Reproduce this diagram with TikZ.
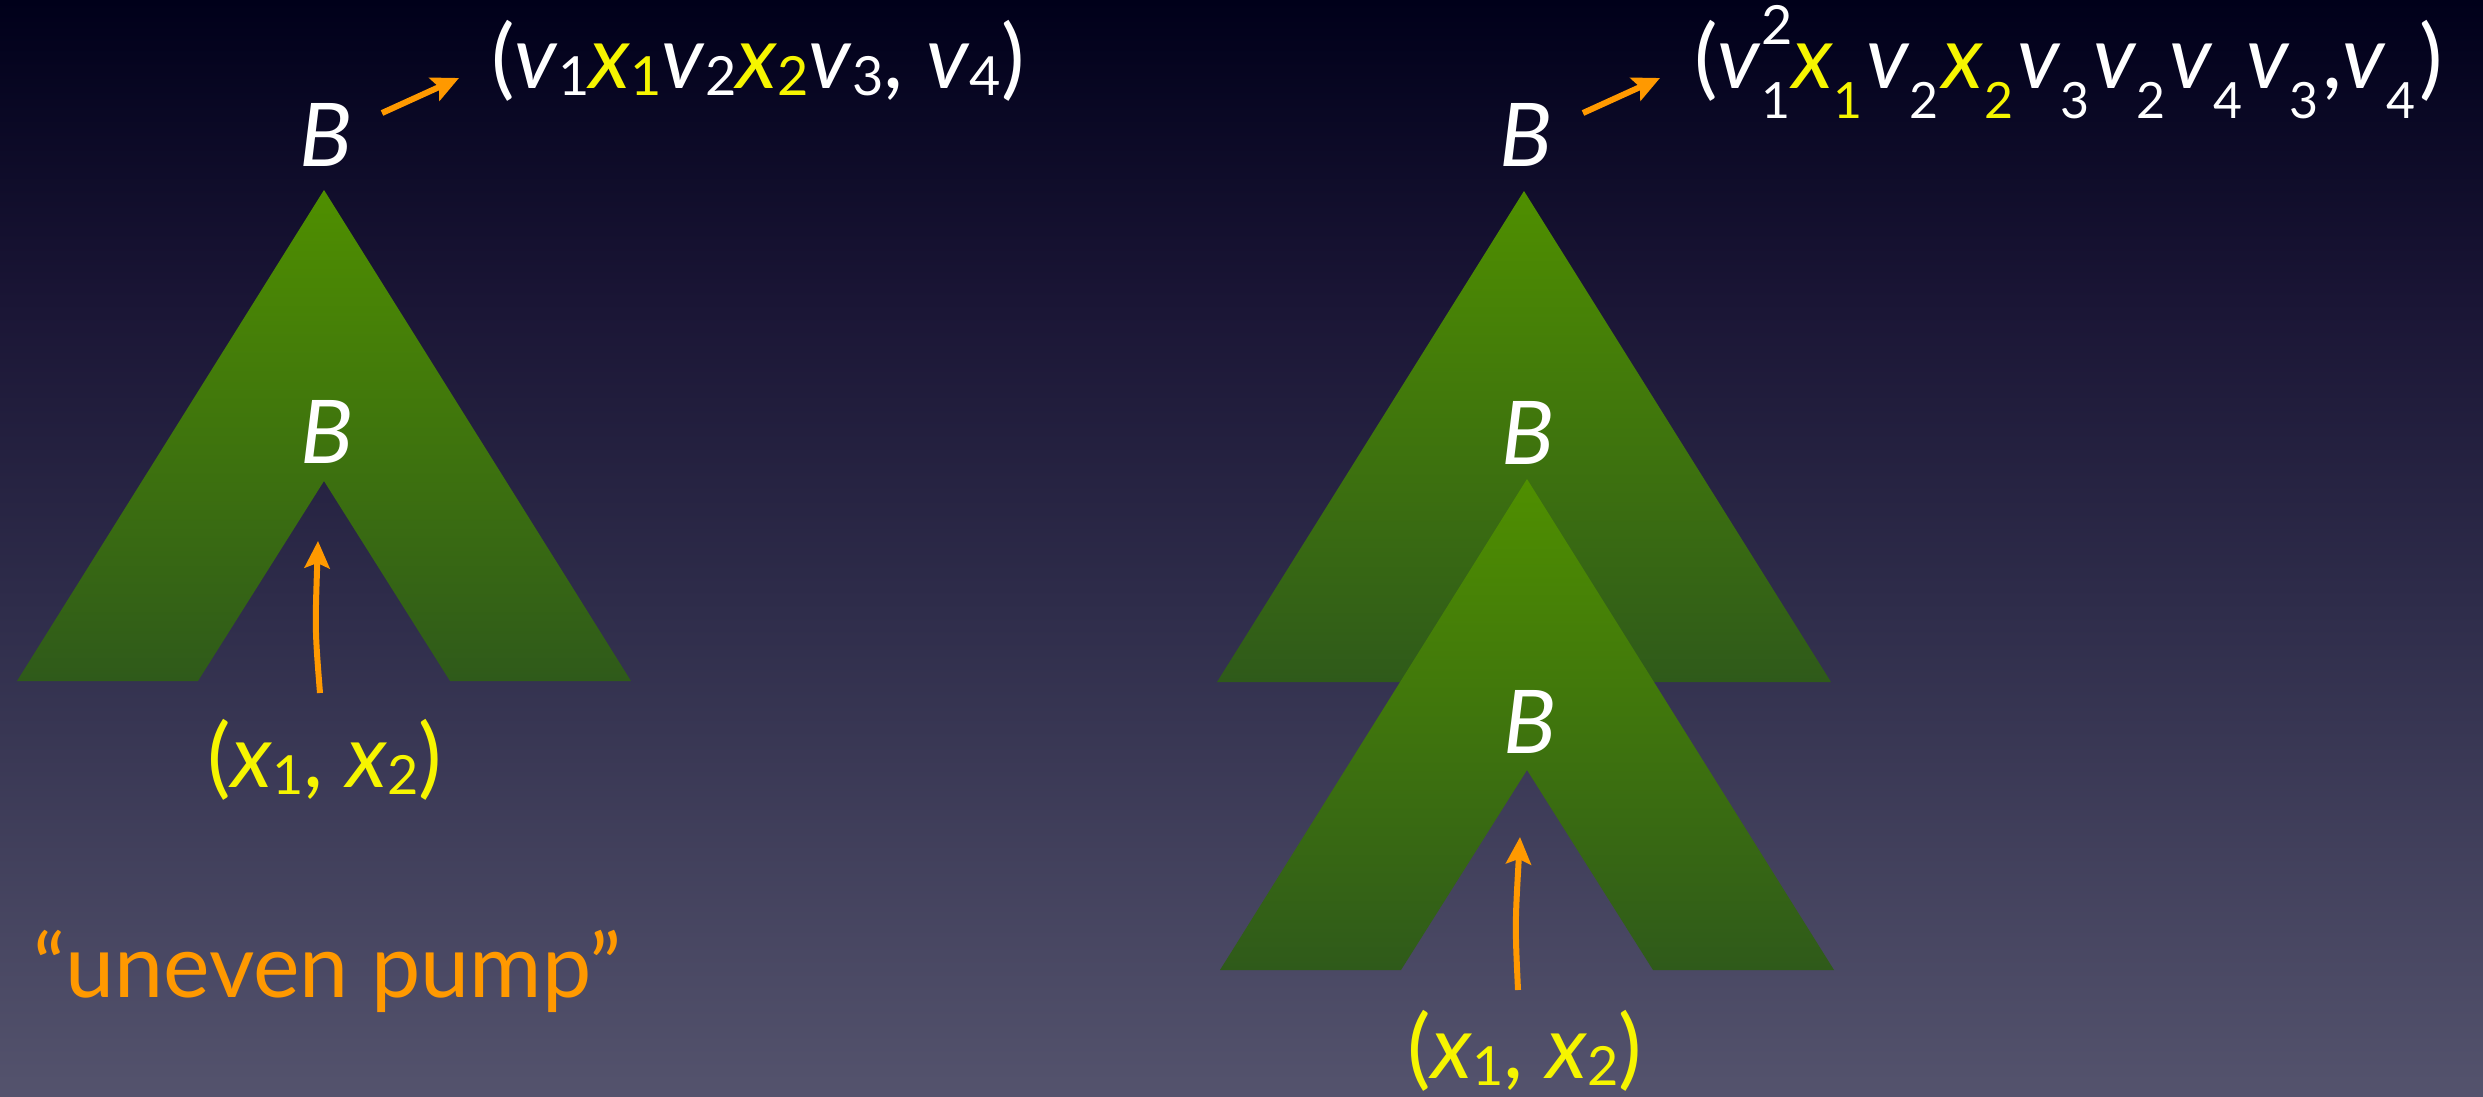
\documentclass[tikz,border=0pt]{standalone}
\usepackage{fontspec}
\setmainfont{Lato}
\usetikzlibrary{arrows.meta}
\definecolor{bgA}{HTML}{00001A}
\definecolor{bgB}{HTML}{1A1535}
\definecolor{bgC}{HTML}{2E2C4A}
\definecolor{bgD}{HTML}{54536D}
\definecolor{treetop}{HTML}{4F8F00}
\definecolor{treebot}{HTML}{2F5A1A}
\definecolor{orng}{HTML}{FF9900}
\definecolor{yel}{HTML}{F6F500}
\newcommand\mainsz{\fontsize{88}{100}\selectfont}
\newcommand\lsub[1]{\raisebox{-7pt}{\fontsize{54}{60}\selectfont\upshape #1}}
\newcommand\rsub[1]{\raisebox{-30pt}{\fontsize{50}{54}\selectfont\upshape #1}\kern4pt}
\newcommand\rsup[1]{\raisebox{44pt}{\fontsize{54}{58}\selectfont\upshape #1}}
\newcommand\iv{\textit{v}}
\newcommand\ix{\textit{x}}
\tikzset{
  treeshape/.style={top color=treetop, bottom color=treebot, draw=none},
  arr/.style={draw=orng, line width=6pt, -{Stealth[length=27pt,width=25pt,inset=5pt]}},
  btext/.style={text=white, font=\mainsz\itshape, inner sep=0pt},
  wtext/.style={text=white, font=\mainsz, inner sep=0pt},
  ytext/.style={text=yel, font=\mainsz, inner sep=0pt},
  otext/.style={text=orng, font=\mainsz, inner sep=0pt},
}
\newcommand\tree[2]{% apex x, apex y: tree with notch
  \shade[treeshape] (#1,#2) -- ++(307,491) -- ++(-181,0) -- ++(-126,-200) -- ++(-126,200) -- ++(-181,0) -- cycle;}
\newcommand\fulltree[2]{% apex x, apex y: full triangle
  \shade[treeshape] (#1,#2) -- ++(307,491) -- ++(-614,0) -- cycle;}
\begin{document}
\begin{tikzpicture}[x=1pt,y=-1pt]
\useasboundingbox (0,0) rectangle (2483,1096);
% background
\shade[top color=bgA, bottom color=bgB] (0,0) rectangle (2483,300);
\shade[top color=bgB, bottom color=bgC] (0,299.5) rectangle (2483,600);
\shade[top color=bgC, bottom color=bgD] (0,599.5) rectangle (2483,1096);
% trees
\tree{324}{190}
\fulltree{1524}{191}
\tree{1527}{479}
% left side
\node[btext] (Btopl) at (326,135) {B};
\node[btext] (Bl) at (327,432) {B};
\node[wtext, anchor=base west] (forml) at (491,88)
  {(\iv\lsub{1}\textcolor{yel}{\ix\lsub{1}}\iv\lsub{2}\textcolor{yel}{\ix\lsub{2}}\iv\lsub{3}, \iv\lsub{4})};
\coordinate (al0) at (382,113);
\coordinate (al1) at (459,78);
\draw[arr] (al0) -- (al1);
\node[ytext] (labl) at (325,760) {(\ix\lsub{1}, \ix\lsub{2})};
\coordinate (ul0) at (320,693);
\coordinate (ul1) at (318,541);
\draw[arr] (ul0) .. controls (315,630) .. (ul1);
\node[otext, anchor=base west] (pump) at (33,997) {“uneven pump”};
% right side
\node[btext] (Btopr) at (1526,135) {B};
\node[btext] (Br1) at (1528,433) {B};
\node[btext] (Br2) at (1530,722) {B};
\node[wtext, anchor=base west] (formr) at (1694,88)
  {(\iv\rlap{\rsub{1}}\rsup{2}\textcolor{yel}{\ix\rsub{1}}\iv\rsub{2}\textcolor{yel}{\ix\rsub{2}}\iv\rsub{3}\iv\rsub{2}\iv\rsub{4}\iv\rsub{3},\iv\rsub{4})};
\coordinate (ar0) at (1583,113);
\coordinate (ar1) at (1660,78);
\draw[arr] (ar0) -- (ar1);
\node[ytext] (labr) at (1525,1051) {(\ix\lsub{1}, \ix\lsub{2})};
\coordinate (ur0) at (1518,990);
\coordinate (ur1) at (1520,837);
\draw[arr] (ur0) .. controls (1515,925) .. (ur1);
\end{tikzpicture}
\end{document}
